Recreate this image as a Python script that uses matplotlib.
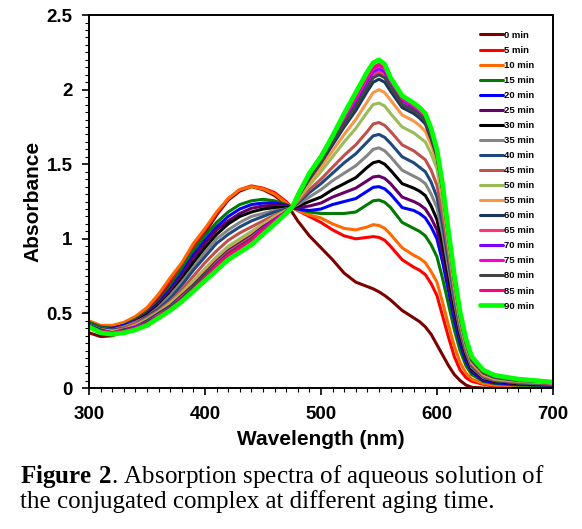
import numpy as np
import matplotlib.pyplot as plt
from matplotlib.ticker import MultipleLocator

wavelength = [300, 310, 320, 330, 340, 350, 360, 370, 380, 390, 400, 410, 420, 430, 440,
              450, 460, 470, 475, 480, 490, 500, 510, 520, 530, 540, 545, 550, 555, 560,
              570, 580, 585, 590, 595, 600, 605, 610, 615, 620, 625, 630, 640, 650, 670, 700]

times = ["0", "5", "10", "15", "20", "25", "30", "35", "40", "45",
         "50", "55", "60", "65", "70", "75", "80", "85", "90"]

colors = ["#7b0000", "#ff0000", "#ff6a00", "#007a00", "#0000ff", "#660066", "#000000",
          "#858585", "#1f497d", "#c0504d", "#9bbb59", "#f79646", "#17375e", "#ff3377",
          "#7f00ff", "#ff00cc", "#444444", "#ff0080", "#00ff00"]

a00 = [0.37, 0.345, 0.35, 0.38, 0.43, 0.52, 0.60, 0.70, 0.80, 0.92, 1.04, 1.16, 1.26, 1.32, 1.35,
       1.33, 1.29, 1.23, 1.18, 1.12, 1.02, 0.94, 0.86, 0.77, 0.71, 0.68, 0.665, 0.645, 0.62, 0.59,
       0.52, 0.47, 0.445, 0.41, 0.36, 0.29, 0.22, 0.15, 0.09, 0.05, 0.02, 0.005, 0.0, 0.0, 0.0, 0.0]
a05 = [0.44, 0.41, 0.41, 0.43, 0.47, 0.53, 0.62, 0.72, 0.82, 0.95, 1.06, 1.17, 1.27, 1.33, 1.355,
       1.34, 1.31, 1.25, 1.21, 1.19, 1.15, 1.11, 1.06, 1.02, 1.00, 1.01, 1.015, 1.01, 0.99, 0.95,
       0.86, 0.81, 0.79, 0.76, 0.70, 0.62, 0.48, 0.34, 0.21, 0.12, 0.07, 0.045, 0.025, 0.015, 0.01, 0.01]
a10 = [0.45, 0.42, 0.42, 0.44, 0.48, 0.54, 0.63, 0.74, 0.84, 0.97, 1.07, 1.18, 1.27, 1.33, 1.35,
       1.335, 1.30, 1.24, 1.21, 1.19, 1.16, 1.14, 1.10, 1.07, 1.06, 1.08, 1.095, 1.09, 1.07, 1.03,
       0.94, 0.89, 0.87, 0.84, 0.78, 0.71, 0.57, 0.42, 0.28, 0.17, 0.10, 0.06, 0.03, 0.02, 0.015, 0.01]
a15 = [0.44, 0.41, 0.40, 0.42, 0.46, 0.51, 0.58, 0.68, 0.80, 0.92, 1.02, 1.11, 1.18, 1.23, 1.255,
       1.265, 1.255, 1.23, 1.21, 1.20, 1.18, 1.17, 1.17, 1.17, 1.18, 1.23, 1.255, 1.26, 1.245, 1.21,
       1.11, 1.07, 1.05, 1.02, 0.96, 0.88, 0.73, 0.56, 0.39, 0.25, 0.15, 0.09, 0.045, 0.03, 0.02, 0.015]
a20 = [0.43, 0.40, 0.40, 0.42, 0.45, 0.50, 0.57, 0.66, 0.77, 0.89, 0.99, 1.08, 1.15, 1.20, 1.23,
       1.24, 1.24, 1.225, 1.21, 1.20, 1.19, 1.20, 1.23, 1.25, 1.27, 1.32, 1.345, 1.35, 1.335, 1.30,
       1.21, 1.19, 1.17, 1.14, 1.08, 1.00, 0.84, 0.65, 0.46, 0.30, 0.18, 0.11, 0.05, 0.035, 0.025, 0.02]
a25 = [0.43, 0.40, 0.40, 0.41, 0.45, 0.50, 0.56, 0.65, 0.75, 0.87, 0.97, 1.06, 1.12, 1.17, 1.205,
       1.22, 1.225, 1.22, 1.21, 1.21, 1.22, 1.24, 1.28, 1.31, 1.34, 1.39, 1.415, 1.42, 1.405, 1.37,
       1.28, 1.25, 1.23, 1.20, 1.14, 1.06, 0.90, 0.70, 0.50, 0.33, 0.20, 0.12, 0.06, 0.04, 0.03, 0.02]
a30 = [0.43, 0.40, 0.39, 0.41, 0.44, 0.49, 0.55, 0.63, 0.73, 0.84, 0.94, 1.03, 1.10, 1.15, 1.18,
       1.20, 1.21, 1.21, 1.21, 1.22, 1.25, 1.28, 1.33, 1.37, 1.41, 1.48, 1.51, 1.52, 1.50, 1.46,
       1.37, 1.34, 1.32, 1.29, 1.22, 1.13, 0.96, 0.75, 0.54, 0.36, 0.22, 0.13, 0.065, 0.045, 0.03, 0.025]
a35 = [0.43, 0.40, 0.39, 0.41, 0.44, 0.48, 0.54, 0.62, 0.71, 0.81, 0.91, 1.00, 1.06, 1.11, 1.15,
       1.17, 1.19, 1.20, 1.21, 1.23, 1.28, 1.33, 1.39, 1.44, 1.49, 1.56, 1.60, 1.61, 1.59, 1.55,
       1.46, 1.42, 1.40, 1.37, 1.30, 1.21, 1.03, 0.80, 0.58, 0.38, 0.24, 0.14, 0.07, 0.05, 0.035, 0.025]
a40 = [0.43, 0.40, 0.39, 0.40, 0.43, 0.48, 0.53, 0.60, 0.69, 0.79, 0.88, 0.97, 1.03, 1.08, 1.12,
       1.15, 1.18, 1.20, 1.21, 1.24, 1.31, 1.37, 1.44, 1.51, 1.57, 1.65, 1.69, 1.70, 1.68, 1.64,
       1.55, 1.51, 1.48, 1.45, 1.38, 1.28, 1.09, 0.85, 0.61, 0.40, 0.25, 0.15, 0.075, 0.05, 0.035, 0.03]
a45 = [0.42, 0.39, 0.38, 0.40, 0.43, 0.47, 0.52, 0.58, 0.66, 0.75, 0.84, 0.92, 0.99, 1.04, 1.08,
       1.12, 1.16, 1.19, 1.21, 1.25, 1.33, 1.40, 1.48, 1.56, 1.63, 1.72, 1.77, 1.78, 1.76, 1.72,
       1.63, 1.59, 1.56, 1.53, 1.46, 1.36, 1.16, 0.90, 0.64, 0.42, 0.26, 0.16, 0.08, 0.055, 0.04, 0.03]
a50 = [0.42, 0.39, 0.38, 0.39, 0.42, 0.46, 0.51, 0.57, 0.64, 0.72, 0.80, 0.88, 0.95, 1.00, 1.05,
       1.10, 1.15, 1.19, 1.21, 1.26, 1.36, 1.45, 1.55, 1.65, 1.74, 1.85, 1.90, 1.91, 1.89, 1.84,
       1.75, 1.71, 1.68, 1.65, 1.57, 1.47, 1.25, 0.96, 0.68, 0.44, 0.28, 0.17, 0.09, 0.06, 0.045, 0.035]
a55 = [0.42, 0.39, 0.38, 0.39, 0.42, 0.45, 0.50, 0.56, 0.63, 0.70, 0.78, 0.86, 0.93, 0.98, 1.03,
       1.09, 1.14, 1.18, 1.21, 1.27, 1.38, 1.48, 1.59, 1.70, 1.80, 1.92, 1.98, 2.00, 1.98, 1.93,
       1.83, 1.79, 1.76, 1.72, 1.63, 1.52, 1.29, 0.99, 0.70, 0.46, 0.29, 0.18, 0.095, 0.065, 0.05, 0.035]
a60 = [0.42, 0.39, 0.37, 0.39, 0.41, 0.45, 0.50, 0.55, 0.62, 0.69, 0.77, 0.85, 0.92, 0.97, 1.02,
       1.08, 1.13, 1.18, 1.21, 1.28, 1.40, 1.51, 1.63, 1.75, 1.86, 1.99, 2.05, 2.07, 2.05, 1.99,
       1.88, 1.84, 1.81, 1.77, 1.67, 1.55, 1.32, 1.01, 0.72, 0.47, 0.30, 0.185, 0.10, 0.07, 0.05, 0.04]
a65 = [0.41, 0.38, 0.37, 0.38, 0.41, 0.44, 0.49, 0.54, 0.61, 0.68, 0.76, 0.84, 0.91, 0.96, 1.01,
       1.07, 1.13, 1.18, 1.21, 1.29, 1.42, 1.53, 1.66, 1.78, 1.90, 2.04, 2.10, 2.12, 2.10, 2.04,
       1.92, 1.87, 1.84, 1.80, 1.70, 1.57, 1.33, 1.02, 0.73, 0.48, 0.31, 0.19, 0.105, 0.075, 0.055, 0.04]
a70 = [0.41, 0.38, 0.37, 0.38, 0.41, 0.44, 0.48, 0.54, 0.60, 0.67, 0.75, 0.83, 0.90, 0.95, 1.00,
       1.07, 1.13, 1.18, 1.21, 1.29, 1.43, 1.54, 1.67, 1.80, 1.92, 2.06, 2.12, 2.14, 2.12, 2.05,
       1.93, 1.88, 1.85, 1.81, 1.71, 1.58, 1.34, 1.03, 0.74, 0.49, 0.31, 0.195, 0.11, 0.08, 0.055, 0.04]
a75 = [0.41, 0.38, 0.37, 0.38, 0.40, 0.44, 0.48, 0.53, 0.60, 0.67, 0.75, 0.82, 0.89, 0.94, 1.00,
       1.06, 1.12, 1.18, 1.21, 1.29, 1.43, 1.55, 1.68, 1.81, 1.94, 2.08, 2.14, 2.16, 2.14, 2.06,
       1.94, 1.89, 1.86, 1.82, 1.72, 1.58, 1.34, 1.03, 0.74, 0.49, 0.32, 0.20, 0.11, 0.08, 0.055, 0.04]
a80 = [0.41, 0.38, 0.37, 0.38, 0.40, 0.44, 0.48, 0.54, 0.60, 0.68, 0.76, 0.83, 0.90, 0.95, 1.00,
       1.06, 1.12, 1.18, 1.21, 1.28, 1.41, 1.52, 1.65, 1.77, 1.89, 2.02, 2.08, 2.10, 2.08, 2.02,
       1.90, 1.86, 1.83, 1.79, 1.69, 1.56, 1.33, 1.02, 0.73, 0.48, 0.31, 0.19, 0.105, 0.075, 0.055, 0.04]
a85 = [0.41, 0.38, 0.37, 0.38, 0.40, 0.43, 0.48, 0.53, 0.59, 0.66, 0.74, 0.82, 0.89, 0.94, 0.99,
       1.06, 1.12, 1.18, 1.21, 1.30, 1.44, 1.56, 1.69, 1.83, 1.96, 2.09, 2.15, 2.17, 2.15, 2.07,
       1.95, 1.90, 1.87, 1.83, 1.73, 1.59, 1.35, 1.04, 0.75, 0.50, 0.32, 0.20, 0.115, 0.08, 0.06, 0.04]
a90 = [0.41, 0.37, 0.36, 0.37, 0.39, 0.42, 0.47, 0.52, 0.58, 0.65, 0.72, 0.79, 0.86, 0.91, 0.96,
       1.03, 1.10, 1.17, 1.21, 1.29, 1.44, 1.55, 1.69, 1.84, 1.98, 2.12, 2.18, 2.20, 2.17, 2.08,
       1.96, 1.91, 1.88, 1.84, 1.74, 1.60, 1.36, 1.05, 0.76, 0.51, 0.33, 0.21, 0.12, 0.085, 0.06, 0.04]

spectra = [a00, a05, a10, a15, a20, a25, a30, a35, a40, a45,
           a50, a55, a60, a65, a70, a75, a80, a85, a90]

plt.rcParams["font.family"] = "Liberation Sans"
plt.rcParams["mathtext.fontset"] = "custom"
plt.rcParams["mathtext.rm"] = "Liberation Serif"
plt.rcParams["mathtext.bf"] = "Liberation Serif:bold"

fig = plt.figure(figsize=(5.82, 5.29), dpi=100)
ax = fig.add_axes([0.153, 0.2665, 0.797, 0.705])

for t, c, y in zip(times, colors, spectra):
    lw = 3.4 if t == "90" else 2.2
    ax.plot(wavelength, y, color=c, lw=lw, label=t + " min", solid_capstyle="round")

ax.set_xlim(300, 700)
ax.set_ylim(0, 2.5)
ax.set_xticks([300, 400, 500, 600, 700])
ax.set_yticks([0, 0.5, 1, 1.5, 2, 2.5])
ax.set_yticklabels(["0", "0.5", "1", "1.5", "2", "2.5"])
ax.xaxis.set_minor_locator(MultipleLocator(10))
ax.yaxis.set_minor_locator(MultipleLocator(0.05))
ax.tick_params(which="major", direction="out", length=5, width=1.2, labelsize=13.5)
ax.tick_params(axis="x", which="major", pad=8)
ax.tick_params(axis="y", which="major", pad=7)
ax.tick_params(which="minor", direction="out", length=3, width=0.8)
for lab in ax.get_xticklabels() + ax.get_yticklabels():
    lab.set_fontweight("bold")
for s in ax.spines.values():
    s.set_linewidth(1.4)

ax.set_xlabel("Wavelength (nm)", fontsize=15, fontweight="bold", labelpad=5)
ax.set_ylabel("Absorbance", fontsize=15, fontweight="bold", labelpad=3)

ax.legend(loc="upper left", bbox_to_anchor=(0.835, 0.968), frameon=False,
          prop={"size": 6.8, "weight": "bold"}, handlelength=2.4,
          handletextpad=0.1, labelspacing=0.64, borderaxespad=0)

fig.text(0.034, 0.087, r"$\mathbf{Figure\ 2}$. Absorption spectra of aqueous solution of",
         fontsize=18, family="Liberation Serif")
fig.text(0.034, 0.040, "the conjugated complex at different aging time.",
         fontsize=18, family="Liberation Serif")

fig.savefig("out.png", dpi=100)
